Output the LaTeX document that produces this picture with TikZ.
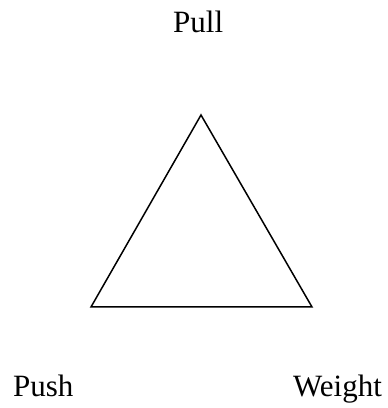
\documentclass[tikz,border=0pt]{standalone}
\usepackage{fontspec}
\setmainfont{Liberation Serif}
\begin{document}
\begin{tikzpicture}[x=1pt,y=1pt,
  lbl/.style={inner sep=0pt,font=\fontsize{31}{36}\selectfont},
  tri/.style={draw=black,line width=1.5pt,line join=miter}]
\useasboundingbox (0,0) rectangle (388,408);
\coordinate (top) at (201,293);
\coordinate (bl) at (91,101);
\coordinate (br) at (312,101);
\draw[tri] (top) -- (bl) -- (br) -- cycle;
\node[lbl,anchor=base west] (pull) at (173,375) {Pull};
\node[lbl,anchor=base west] (push) at (13,12) {Push};
\node[lbl,anchor=base west] (weight) at (293,12) {Weight};
\end{tikzpicture}
\end{document}
